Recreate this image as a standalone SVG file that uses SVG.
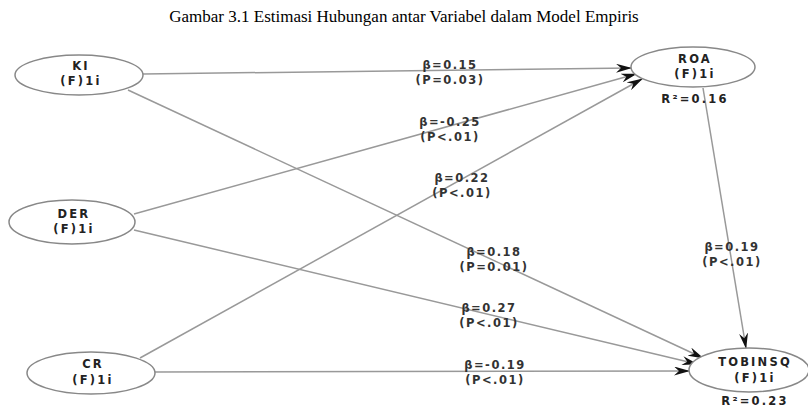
<svg xmlns="http://www.w3.org/2000/svg" width="808" height="407" viewBox="0 0 808 407">
<defs>
<marker id="ah" markerWidth="16" markerHeight="9" refX="15" refY="4.5" orient="auto" markerUnits="userSpaceOnUse">
<path d="M0,0 L16,4.5 L0,9 L5,4.5 Z" fill="#111"/>
</marker>
<style>
.title{font-family:"Liberation Serif",serif;font-size:17px;fill:#000}
.node ellipse{fill:#fff;stroke:#888;stroke-width:1.5}
.nt{font-family:"DejaVu Sans",sans-serif;font-size:11.5px;font-weight:bold;fill:#222;text-anchor:middle;letter-spacing:2.2px}
.conn line{stroke:#999;stroke-width:1.5;marker-end:url(#ah)}
.lbl{font-family:"DejaVu Sans",sans-serif;font-size:11.5px;font-weight:bold;fill:#333;text-anchor:middle;letter-spacing:1.5px}
</style>
</defs>
<rect width="808" height="407" fill="#fff"/>
<text class="title" x="404" y="22" text-anchor="middle">Gambar 3.1 Estimasi Hubungan antar Variabel dalam Model Empiris</text>
<g id="connectors" class="conn">
<line x1="143" y1="74" x2="631" y2="68"/>
<line x1="128" y1="90" x2="703" y2="358"/>
<line x1="134" y1="214" x2="636" y2="74"/>
<line x1="134" y1="230" x2="697" y2="364"/>
<line x1="140" y1="358" x2="642" y2="79"/>
<line x1="155" y1="372" x2="689" y2="371"/>
<line x1="703" y1="88" x2="746" y2="348"/>
</g>
<g id="labels">
<text class="lbl" x="450" y="69">β=0.15</text>
<text class="lbl" x="450" y="84">(P=0.03)</text>
<text class="lbl" x="450" y="126">β=-0.25</text>
<text class="lbl" x="450" y="141">(P&lt;.01)</text>
<text class="lbl" x="462" y="182">β=0.22</text>
<text class="lbl" x="462" y="197">(P&lt;.01)</text>
<text class="lbl" x="494" y="256">β=0.18</text>
<text class="lbl" x="494" y="271">(P=0.01)</text>
<text class="lbl" x="489" y="312">β=0.27</text>
<text class="lbl" x="489" y="327">(P&lt;.01)</text>
<text class="lbl" x="495" y="369">β=-0.19</text>
<text class="lbl" x="495" y="384">(P&lt;.01)</text>
<text class="lbl" x="732" y="251">β=0.19</text>
<text class="lbl" x="732" y="266">(P&lt;.01)</text>
</g>
<g id="KI" class="node">
<ellipse cx="79" cy="75" rx="64" ry="20"/>
<text class="nt" x="81" y="70">KI</text>
<text class="nt" x="81" y="85">(F)1i</text>
</g>
<g id="ROA" class="node">
<ellipse cx="693" cy="67" rx="62" ry="20"/>
<text class="nt" x="695" y="63">ROA</text>
<text class="nt" x="695" y="78">(F)1i</text>
<text class="nt" x="695" y="103">R²=0.16</text>
</g>
<g id="DER" class="node">
<ellipse cx="72" cy="222" rx="63" ry="22"/>
<text class="nt" x="74" y="218">DER</text>
<text class="nt" x="74" y="233">(F)1i</text>
</g>
<g id="CR" class="node">
<ellipse cx="91" cy="373" rx="64" ry="21"/>
<text class="nt" x="93" y="368">CR</text>
<text class="nt" x="93" y="384">(F)1i</text>
</g>
<g id="TOBINSQ" class="node">
<ellipse cx="749" cy="370" rx="60" ry="22"/>
<text class="nt" x="755" y="366">TOBINSQ</text>
<text class="nt" x="755" y="382">(F)1i</text>
<text class="nt" x="755" y="405">R²=0.23</text>
</g>
</svg>
